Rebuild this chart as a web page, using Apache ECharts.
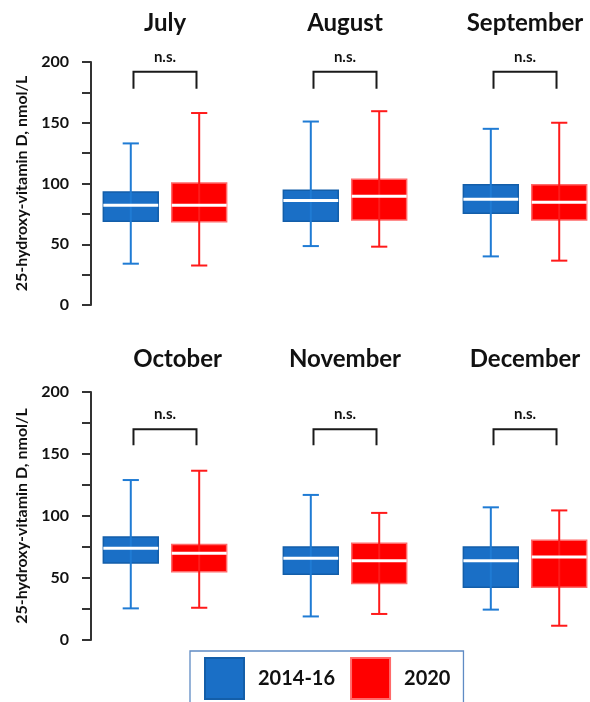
<!DOCTYPE html>
<html><head><meta charset="utf-8">
<script src="https://cdn.jsdelivr.net/npm/echarts@6/dist/echarts.min.js"></script>
<style>html,body{margin:0;padding:0;background:#fff}#c{width:590px;height:702px}</style>
</head><body><div id="c"></div>
<script>
// ---- data ----
const months = ['July','August','September','October','November','December'];
const groups = ['2014-16','2020'];
// [min, q1, median, q3, max] in nmol/L, one per month
const vitD_2014_16 = [
  [34, 69, 82, 93, 133],
  [48.5, 69, 86, 94.5, 151],
  [40, 75.5, 87, 99, 145],
  [25.5, 62, 74, 83, 129],
  [19, 53, 66, 75, 117],
  [24.5, 42.5, 64, 75, 107]
];
const vitD_2020 = [
  [32.5, 68.5, 82, 100.5, 158],
  [48, 70, 89.5, 103.5, 159.5],
  [36.5, 70, 84.5, 99, 150],
  [26, 55, 70, 77, 136.5],
  [21, 45.5, 64, 78, 102.5],
  [11.5, 42.5, 67, 80.5, 104.5]
];
const significance = ['n.s.','n.s.','n.s.','n.s.','n.s.','n.s.'];
const yTicks = [0, 50, 100, 150, 200];

// ---- styling / layout ----
const FONT = 'Lato';
const BLUE = '#1a6fc6', BLUE_EDGE = '#135ea9', BLUE_WHISK = '#1f7bd4';
const RED = '#ff0000', RED_EDGE = '#ff6a6a', RED_WHISK = '#ff1a1a';
const OFF = 0.19, BOX_W = 0.305, CAP_W = 0.09, BR_OFF = 0.175;
const TITLE_DX = [0, 0, 0, 0.07, 0, 0]; // small horizontal nudges of month titles (axis units)
const panels = [
  {idx: [0,1,2], top: 62, height: 243, brTop: 192, brEnd: 178, nsY: 204, titleY: 232},
  {idx: [3,4,5], top: 392, height: 248, brTop: 170, brEnd: 157, nsY: 182, titleY: 226}
];

function boxRender(offset, fill, edge, whisk) {
  return function (params, api) {
    const x = api.value(0) + offset;
    const lo = api.coord([x, api.value(1)]);
    const q1 = api.coord([x, api.value(2)]);
    const md = api.coord([x, api.value(3)]);
    const q3 = api.coord([x, api.value(4)]);
    const hi = api.coord([x, api.value(5)]);
    const hw = api.size([BOX_W, 0])[0] / 2;
    const cw = api.size([CAP_W, 0])[0] / 2;
    const cx = lo[0];
    return {type: 'group', children: [
      {type: 'rect', shape: {x: cx - hw, y: q3[1], width: 2 * hw, height: q1[1] - q3[1]},
        style: {fill: fill, stroke: edge, lineWidth: 1.5}},
      {type: 'line', shape: {x1: cx, y1: lo[1], x2: cx, y2: hi[1]}, style: {stroke: whisk, lineWidth: 2}},
      {type: 'line', shape: {x1: cx - cw, y1: lo[1], x2: cx + cw, y2: lo[1]}, style: {stroke: whisk, lineWidth: 2}},
      {type: 'line', shape: {x1: cx - cw, y1: hi[1], x2: cx + cw, y2: hi[1]}, style: {stroke: whisk, lineWidth: 2}},
      {type: 'line', shape: {x1: cx - hw, y1: md[1], x2: cx + hw, y2: md[1]}, style: {stroke: '#ffffff', lineWidth: 3}}
    ]};
  };
}

function annotRender(p) {
  return function (params, api) {
    const i = api.value(0);
    const k = p.idx[params.dataIndex];
    const a = api.coord([i - BR_OFF, p.brEnd]);
    const b = api.coord([i - BR_OFF, p.brTop]);
    const c = api.coord([i + BR_OFF, p.brTop]);
    const d = api.coord([i + BR_OFF, p.brEnd]);
    const ns = api.coord([i, p.nsY]);
    const tt = api.coord([i + TITLE_DX[k], p.titleY]);
    return {type: 'group', children: [
      {type: 'polyline', shape: {points: [a, b, c, d]}, style: {stroke: '#1a1a1a', lineWidth: 2, fill: null}},
      {type: 'text', x: ns[0], y: ns[1], style: {text: significance[k], fill: '#111', font: 'bold 15px ' + FONT, align: 'center', verticalAlign: 'middle'}},
      {type: 'text', x: tt[0], y: tt[1], style: {text: months[k], fill: '#111', font: 'bold 24px ' + FONT, align: 'center', verticalAlign: 'middle'}}
    ]};
  };
}

const grid = [], xAxis = [], yAxis = [], series = [];
panels.forEach(function (p, g) {
  grid.push({left: 91, width: 499, top: p.top, height: p.height});
  xAxis.push({gridIndex: g, type: 'value', min: -0.411, max: 2.361, show: false});
  yAxis.push({
    gridIndex: g, type: 'value', min: yTicks[0], max: yTicks[yTicks.length - 1], interval: yTicks[1] - yTicks[0],
    name: '25-hydroxy-vitamin D, nmol/L', nameLocation: 'middle', nameGap: 59,
    nameTextStyle: {fontFamily: FONT, fontWeight: 'bold', fontSize: 16, color: '#111'},
    axisLine: {show: true, onZero: false, lineStyle: {color: '#333', width: 2}},
    axisTick: {show: true, length: 9, lineStyle: {color: '#333', width: 2}},
    minorTick: {show: true, splitNumber: 2, length: 9, lineStyle: {color: '#333', width: 2}},
    splitLine: {show: false},
    axisLabel: {margin: 22, fontFamily: FONT, fontWeight: 'bold', fontSize: 16, color: '#111'}
  });
  series.push({
    name: groups[0], type: 'custom', xAxisIndex: g, yAxisIndex: g,
    itemStyle: {color: BLUE, borderColor: BLUE_EDGE, borderWidth: 1.5},
    renderItem: boxRender(-OFF, BLUE, BLUE_EDGE, BLUE_WHISK),
    data: p.idx.map(function (m, j) { return [j].concat(vitD_2014_16[m]); })
  });
  series.push({
    name: groups[1], type: 'custom', xAxisIndex: g, yAxisIndex: g,
    itemStyle: {color: RED, borderColor: RED_EDGE, borderWidth: 1},
    renderItem: boxRender(OFF, RED, RED_EDGE, RED_WHISK),
    data: p.idx.map(function (m, j) { return [j].concat(vitD_2020[m]); })
  });
  series.push({
    type: 'custom', xAxisIndex: g, yAxisIndex: g, silent: true,
    renderItem: annotRender(p),
    data: p.idx.map(function (m, j) { return [j]; })
  });
});

const chart = echarts.init(document.getElementById('c'), null, {renderer: 'canvas'});
chart.setOption({
  animation: false,
  backgroundColor: '#ffffff',
  grid: grid, xAxis: xAxis, yAxis: yAxis, series: series,
  legend: {
    data: groups, left: 190, top: 651, orient: 'horizontal',
    icon: 'rect', itemWidth: 39, itemHeight: 41, itemGap: 15,
    padding: [6, 13, 6, 14], borderColor: '#5f8bc4', borderWidth: 1.3,
    selectedMode: false,
    textStyle: {fontFamily: FONT, fontWeight: 'bold', fontSize: 20, color: '#111', padding: [0, 0, 0, 9]}
  }
});
</script></body></html>
